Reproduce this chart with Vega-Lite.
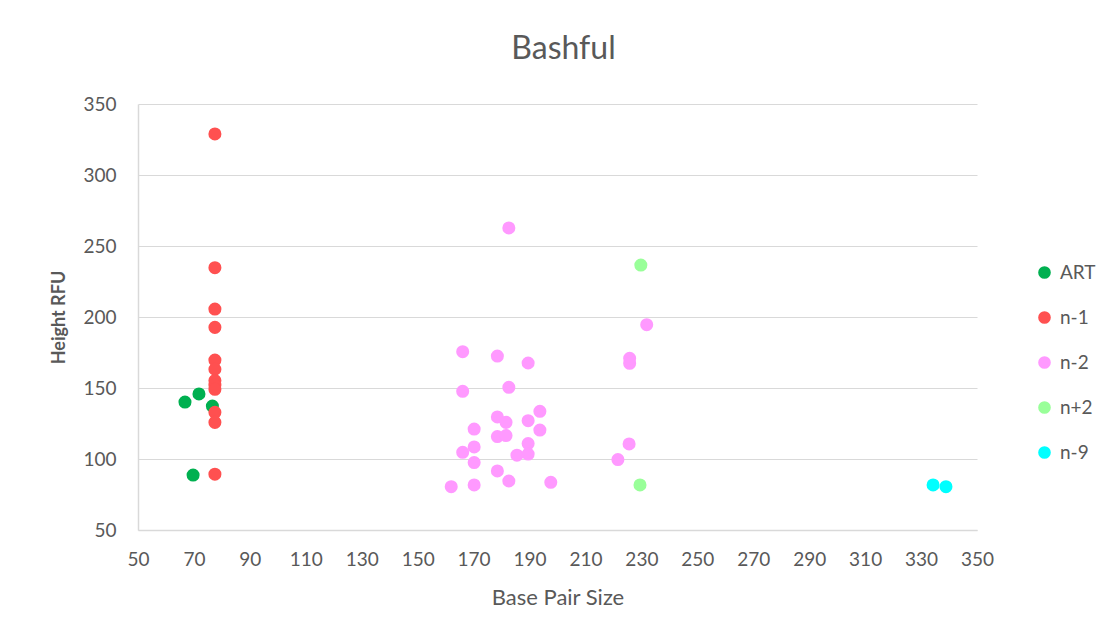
{
  "$schema": "https://vega.github.io/schema/vega-lite/v6.json",
  "width": 839,
  "height": 426,
  "autosize": "none",
  "padding": {"left": 138, "top": 104, "right": 134, "bottom": 114},
  "background": "white",
  "title": {"text": "Bashful", "fontSize": 32, "font": "Lato", "fontWeight": "normal", "color": "#595959", "offset": 29, "anchor": "middle", "dx": 6},
  "data": {
    "values": [
      {"bp": 66.8, "rfu": 140.1, "series": "ART"},
      {"bp": 71.8, "rfu": 145.8, "series": "ART"},
      {"bp": 76.6, "rfu": 137.3, "series": "ART"},
      {"bp": 69.7, "rfu": 88.7, "series": "ART"},
      {"bp": 77.5, "rfu": 328.9, "series": "n-1"},
      {"bp": 77.5, "rfu": 234.7, "series": "n-1"},
      {"bp": 77.5, "rfu": 205.6, "series": "n-1"},
      {"bp": 77.5, "rfu": 192.7, "series": "n-1"},
      {"bp": 77.5, "rfu": 169.7, "series": "n-1"},
      {"bp": 77.5, "rfu": 163.2, "series": "n-1"},
      {"bp": 77.5, "rfu": 155.2, "series": "n-1"},
      {"bp": 77.5, "rfu": 152.1, "series": "n-1"},
      {"bp": 77.5, "rfu": 149.1, "series": "n-1"},
      {"bp": 77.5, "rfu": 132.9, "series": "n-1"},
      {"bp": 77.5, "rfu": 125.8, "series": "n-1"},
      {"bp": 77.5, "rfu": 89.3, "series": "n-1"},
      {"bp": 182.6, "rfu": 262.7, "series": "n-2"},
      {"bp": 166.1, "rfu": 175.6, "series": "n-2"},
      {"bp": 178.5, "rfu": 172.5, "series": "n-2"},
      {"bp": 189.5, "rfu": 167.6, "series": "n-2"},
      {"bp": 166.1, "rfu": 147.7, "series": "n-2"},
      {"bp": 182.6, "rfu": 150.5, "series": "n-2"},
      {"bp": 193.7, "rfu": 133.6, "series": "n-2"},
      {"bp": 178.5, "rfu": 129.6, "series": "n-2"},
      {"bp": 181.6, "rfu": 125.8, "series": "n-2"},
      {"bp": 189.5, "rfu": 127.0, "series": "n-2"},
      {"bp": 170.2, "rfu": 121.1, "series": "n-2"},
      {"bp": 193.7, "rfu": 120.4, "series": "n-2"},
      {"bp": 178.5, "rfu": 115.8, "series": "n-2"},
      {"bp": 181.6, "rfu": 116.5, "series": "n-2"},
      {"bp": 170.2, "rfu": 108.5, "series": "n-2"},
      {"bp": 189.5, "rfu": 110.9, "series": "n-2"},
      {"bp": 166.1, "rfu": 104.7, "series": "n-2"},
      {"bp": 185.5, "rfu": 102.7, "series": "n-2"},
      {"bp": 189.5, "rfu": 103.5, "series": "n-2"},
      {"bp": 170.2, "rfu": 97.5, "series": "n-2"},
      {"bp": 178.5, "rfu": 91.6, "series": "n-2"},
      {"bp": 182.6, "rfu": 84.5, "series": "n-2"},
      {"bp": 197.6, "rfu": 83.6, "series": "n-2"},
      {"bp": 162.0, "rfu": 80.5, "series": "n-2"},
      {"bp": 170.2, "rfu": 81.7, "series": "n-2"},
      {"bp": 225.8, "rfu": 170.9, "series": "n-2"},
      {"bp": 225.8, "rfu": 167.4, "series": "n-2"},
      {"bp": 231.9, "rfu": 194.6, "series": "n-2"},
      {"bp": 225.6, "rfu": 110.6, "series": "n-2"},
      {"bp": 221.6, "rfu": 99.6, "series": "n-2"},
      {"bp": 229.8, "rfu": 236.6, "series": "n+2"},
      {"bp": 229.5, "rfu": 81.7, "series": "n+2"},
      {"bp": 334.3, "rfu": 81.7, "series": "n-9"},
      {"bp": 338.9, "rfu": 80.5, "series": "n-9"}
    ]
  },
  "mark": {"type": "circle", "size": 170, "opacity": 1},
  "encoding": {
    "x": {
      "field": "bp", "type": "quantitative", "title": "Base Pair Size",
      "scale": {"domain": [50, 350], "nice": false, "zero": false},
      "axis": {"values": [50,70,90,110,130,150,170,190,210,230,250,270,290,310,330,350], "grid": false, "ticks": false, "labelFlush": false, "labelOverlap": false, "labelBound": false, "domainColor": "#D9D9D9", "domainWidth": 1.5, "labelPadding": 20, "titlePadding": 18, "titleFontSize": 22, "titleFontWeight": "normal"}
    },
    "y": {
      "field": "rfu", "type": "quantitative", "title": "Height RFU",
      "scale": {"domain": [50, 350], "nice": false, "zero": false},
      "axis": {"values": [50,100,150,200,250,300,350], "grid": true, "ticks": false, "labelFlush": false, "labelOverlap": false, "domainColor": "#D9D9D9", "domainWidth": 1.5, "labelPadding": 22, "titlePadding": 14, "titleFontWeight": "bold", "titleFontSize": 18}
    },
    "color": {
      "field": "series", "type": "nominal", "title": null,
      "scale": {"domain": ["ART", "n-1", "n-2", "n+2", "n-9"], "range": ["#00B050", "#FF5050", "#FF99FF", "#99FF99", "#00FFFF"]},
      "legend": {"orient": "none", "legendX": 897, "legendY": 159, "symbolType": "circle", "symbolSize": 160, "labelFontSize": 19, "labelFont": "Lato", "labelColor": "#595959", "rowPadding": 25, "labelOffset": 6, "symbolOpacity": 1, "symbolStrokeWidth": 0}
    }
  },
  "config": {
    "view": {"stroke": null},
    "axis": {"labelFont": "Lato", "labelFontSize": 19, "labelColor": "#595959", "titleFont": "Lato", "titleColor": "#595959", "gridColor": "#D9D9D9", "gridWidth": 1.2}
  }
}
